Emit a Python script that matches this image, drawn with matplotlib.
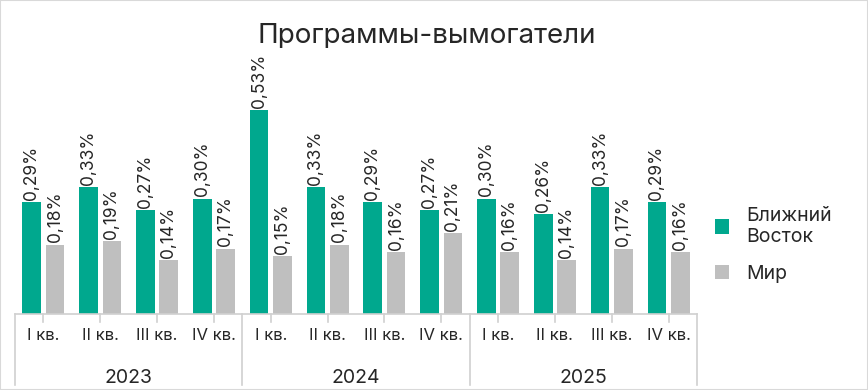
import numpy as np
import matplotlib.pyplot as plt
from matplotlib.patches import Rectangle
import matplotlib.transforms as mtransforms

# Data
years = ["2023", "2024", "2025"]
quarters = ["I кв.", "II кв.", "III кв.", "IV кв."]
middle_east = [0.29, 0.33, 0.27, 0.30, 0.53, 0.33, 0.29, 0.27, 0.30, 0.26, 0.33, 0.29]
world = [0.18, 0.19, 0.14, 0.17, 0.15, 0.18, 0.16, 0.21, 0.16, 0.14, 0.17, 0.16]

GREEN = "#00A88E"
GREY = "#BFBFBF"
TEXT = "#262626"
LINE = "#D0D0D0"

plt.rcParams['font.family'] = ['Inter', 'DejaVu Sans']

W, H = 868, 390
fig = plt.figure(figsize=(W / 100, H / 100), dpi=100)

# axes placement in pixels: left 15, right 697, bottom 314, top 60
ax = fig.add_axes([15 / W, (H - 314) / H, (697 - 15) / W, (314 - 60) / H])

n = len(middle_east)
x = np.arange(n)
off = 0.205
bw = 0.33

ax.bar(x - off, middle_east, width=bw, color=GREEN, label="Ближний\nВосток", zorder=2)
ax.bar(x + off, world, width=bw, color=GREY, label="Мир", zorder=2)

def fmt(v):
    return f"{v:.2f}".replace(".", ",") + "%"

for xi, v in zip(x, middle_east):
    ax.text(xi - off, v + 0.006, fmt(v), rotation=90, ha='center', va='bottom',
            fontsize=12.5, color=TEXT)
for xi, v in zip(x, world):
    ax.text(xi + off, v + 0.006, fmt(v), rotation=90, ha='center', va='bottom',
            fontsize=12.5, color=TEXT)

ax.set_xlim(-0.5, n - 0.5)
ax.set_ylim(0, 0.66)
for s in ['top', 'right', 'left']:
    ax.spines[s].set_visible(False)
ax.spines['bottom'].set_color(LINE)
ax.spines['bottom'].set_linewidth(1.2)
ax.set_yticks([])
ax.set_xticks([])

# multi-level category axis
trans = mtransforms.blended_transform_factory(ax.transData, ax.transAxes)
ax_h = 314 - 60
def yfrac(py):
    return (314 - py) / ax_h

for xi in x:
    ax.plot([xi, xi], [0, yfrac(322)], color=LINE, lw=1.2, transform=trans, clip_on=False)
    ax.text(xi, yfrac(335), quarters[xi % 4], transform=trans, ha='center', va='center',
            fontsize=12, color=TEXT)
for g in range(len(years) + 1):
    xb = g * 4 - 0.5
    ax.plot([xb, xb], [0, yfrac(385)], color=LINE, lw=1.2, transform=trans, clip_on=False)
for g, yr in enumerate(years):
    ax.text(g * 4 + 1.5, yfrac(378), yr, transform=trans, ha='center', va='center',
            fontsize=14, color=TEXT)

# title
fig.text(427 / W, 1 - 36 / H, "Программы-вымогатели", ha='center', va='center',
         fontsize=20, color=TEXT)

# legend
leg = fig.legend(loc='center left', bbox_to_anchor=(697 / W, 1 - 245 / H), frameon=False,
                 fontsize=14, labelcolor=TEXT, handlelength=0.75, handleheight=0.75,
                 handletextpad=0.9, labelspacing=1.0)

# figure border
fig.patches.append(Rectangle((0, 0), 1, 1, transform=fig.transFigure, fill=False,
                             edgecolor="#D9D9D9", lw=1.5))

fig.savefig("out.png", dpi=100)
